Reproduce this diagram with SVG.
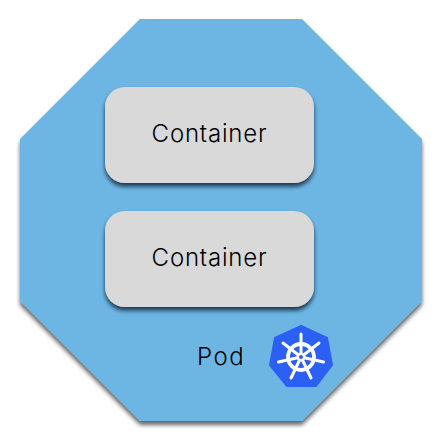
<svg xmlns="http://www.w3.org/2000/svg" width="442" height="440" viewBox="0 0 442 440">
<style>
.t{font-family:"Inter","Liberation Sans",sans-serif;font-size:24px;font-weight:300;fill:#000;letter-spacing:.8px}
.box{fill:#d9d9d9;filter:url(#s2)}
.sp{stroke:#fff;stroke-width:3;stroke-linecap:round;fill:none}
</style>
<defs>
<filter id="s1" x="-5%" y="-5%" width="110%" height="110%"><feDropShadow dx="0" dy="4" stdDeviation="2" flood-color="#000" flood-opacity=".6"/></filter>
<filter id="s2" x="-10%" y="-10%" width="120%" height="125%"><feDropShadow dx="0" dy="3.500" stdDeviation="2" flood-color="#0c2230" flood-opacity=".85"/></filter>
</defs>
<g id="pod">
<polygon points="140,19 302,19 422,139 422,301 302,421 140,421 20,301 20,139" fill="#6db6e4" filter="url(#s1)"/>
<text class="t" x="197" y="365" style="letter-spacing:1.500px">Pod</text>
</g>
<g id="container-1">
<rect class="box" x="105" y="87" width="209" height="96" rx="20"/>
<text class="t" x="209.500" y="142" text-anchor="middle">Container</text>
</g>
<g id="container-2">
<rect class="box" x="105" y="211" width="209" height="96" rx="20"/>
<text class="t" x="209.500" y="266" text-anchor="middle">Container</text>
</g>
<g id="kubernetes-logo">
<polygon points="301,326 327,338 332,365 316,386 287,386 270,365 275,338" fill="#2c60f5" stroke="#2c60f5" stroke-width="2" stroke-linejoin="round"/>
<circle cx="301" cy="357" r="13" fill="none" stroke="#fff" stroke-width="3.800"/>
<path class="sp" d="M301 357V334M301 357L319 343M301 357L323.500 362M301 357L311 378M301 357L291 378M301 357L278.500 362M301 357L283 343"/>
<circle cx="301" cy="357" r="4.500" fill="#fff"/>
<circle cx="301" cy="357" r="2" fill="#2c60f5"/>
</g>
<g id="connectors"/>
</svg>
